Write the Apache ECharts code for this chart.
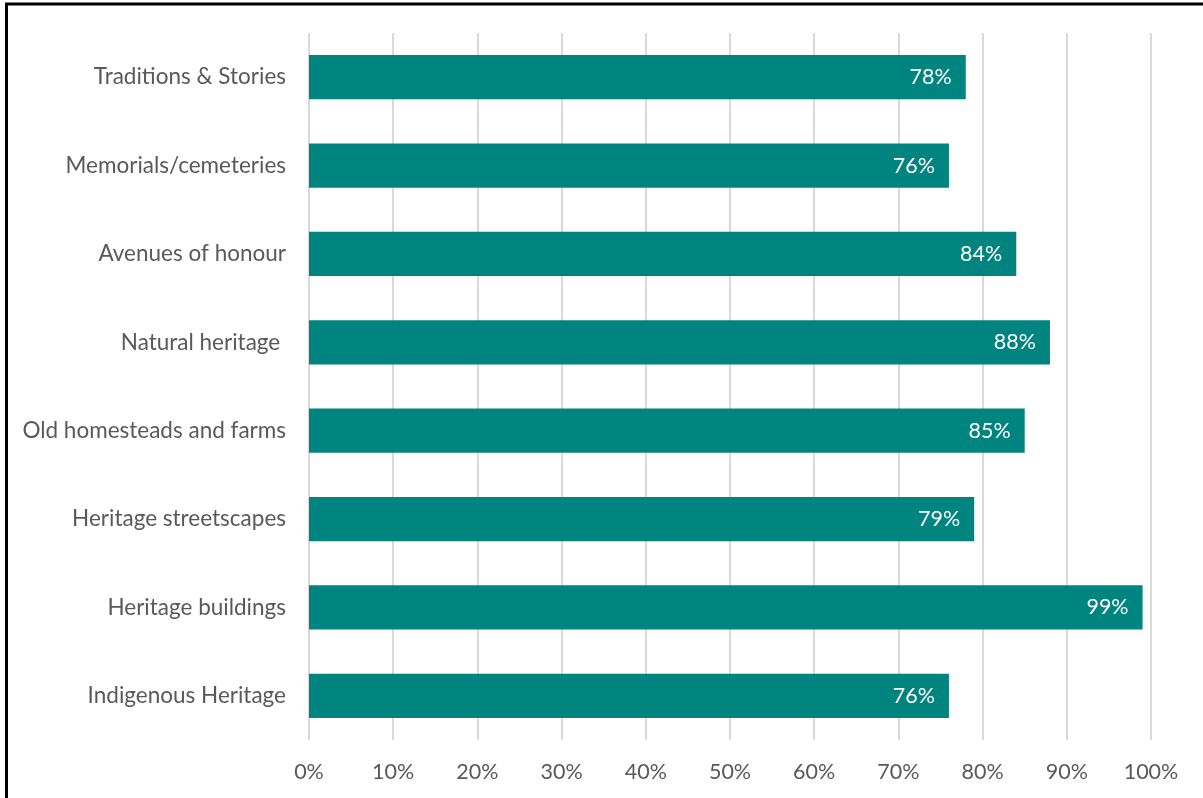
<!DOCTYPE html>
<html>
<head>
<meta charset="utf-8">
<script src="https://cdn.jsdelivr.net/npm/echarts@6/dist/echarts.min.js"></script>
<style>
  html, body { margin: 0; padding: 0; background: #fff; }
  #chart { width: 1203px; height: 798px; }
</style>
</head>
<body>
<div id="chart"></div>
<script>
// Heritage categories, listed bottom to top as drawn on the category axis
const categories = [
  'Indigenous Heritage',
  'Heritage buildings',
  'Heritage streetscapes',
  'Old homesteads and farms',
  'Natural heritage ',
  'Avenues of honour',
  'Memorials/cemeteries',
  'Traditions & Stories'
];
// Share of respondents (%) for each category
const shares = [76, 99, 79, 85, 88, 84, 76, 78];

const chart = echarts.init(document.getElementById('chart'));
const font = 'Lato, "Open Sans", sans-serif';

chart.setOption({
  animation: false,
  graphic: [{
    type: 'rect',
    shape: { x: 6.5, y: 4, width: 1400, height: 1000 },
    style: { fill: 'none', stroke: '#000', lineWidth: 3 },
    silent: true
  }],
  grid: { left: 309, right: 52, top: 33, bottom: 58 },
  xAxis: {
    type: 'value',
    min: 0, max: 100, interval: 10,
    axisLine: { show: false },
    axisTick: { show: false },
    splitLine: { show: true, lineStyle: { color: '#d9d9d9', width: 2 } },
    axisLabel: {
      formatter: v => v + '%',
      color: '#595959', fontSize: 21.5, fontFamily: font, margin: 21
    }
  },
  yAxis: {
    type: 'category',
    data: categories,
    axisLine: { show: false },
    axisTick: { show: false },
    axisLabel: { color: '#595959', fontSize: 22.5, fontFamily: font, margin: 23, padding: [0, 0, 2, 0] }
  },
  series: [{
    type: 'bar',
    data: shares,
    barWidth: '50%',
    itemStyle: { color: '#00847f' },
    label: {
      show: true,
      position: 'insideRight',
      distance: 14,
      formatter: p => p.value + '%',
      color: '#fff', fontSize: 21.5, fontFamily: font
    }
  }]
});
</script>
</body>
</html>
